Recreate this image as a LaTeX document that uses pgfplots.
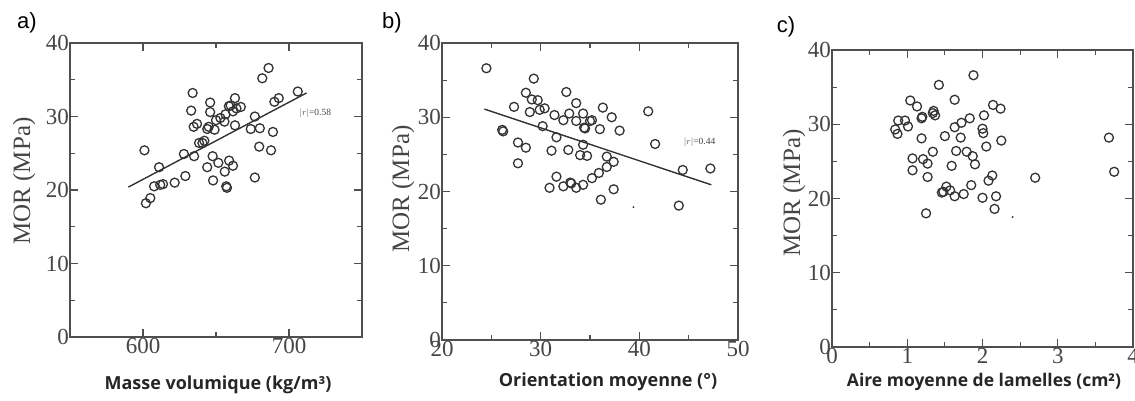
\documentclass[border=0pt]{standalone}
\usepackage{pgfplots}
\pgfplotsset{compat=1.18}
\usepackage{fontspec}
\setmainfont{Liberation Serif}
\newfontfamily\labfont{Open Sans}
\newfontfamily\panfont{Liberation Sans}
\definecolor{ink}{HTML}{333333}
\definecolor{axc}{HTML}{4F4F4F}
\definecolor{txt}{HTML}{454545}

\pgfplotsset{
  mor/.style={
    scale only axis,
    anchor=north west,
    ymin=0, ymax=40,
    ytick={0,10,20,30,40},
    minor y tick num=1,
    minor x tick num=1,
    tick align=inside,
    major tick length=8pt,
    minor tick length=5pt,
    axis line style={axc, line width=1.5pt},
    every tick/.style={axc, line width=1.2pt},
    every minor tick/.style={axc, line width=1.1pt},
    /pgf/number format/assume math mode=true,
    /pgf/number format/1000 sep={},
    tick label style={font=\fontsize{23}{25}\selectfont, text=txt},
    yticklabel style={inner sep=1pt},
    xticklabel style={inner sep=1pt},
    clip=false,
  },
  pts/.style={only marks, mark=o, mark size=4.5pt, ink, mark options={line width=1.3pt}},
  reg/.style={no marks, ink, line width=1.4pt},
}

\begin{document}
\begin{tikzpicture}
\useasboundingbox (0pt,0pt) rectangle (1135pt,-400pt);

% ---------- a ----------
\begin{axis}[mor, at={(70pt,-43pt)}, width=292pt, height=294pt,
  xmin=550, xmax=750, xtick={600,700}]
\addplot[pts] coordinates {
(601,25.4) (611,23.1) (602,18.2) (605,18.9) (607.6,20.5) (611.8,20.7)
(613.7,20.8) (621.7,21.0) (629,21.9) (628,24.9) (635,24.6) (634,33.2)
(633,30.8) (637,29.0) (638.4,26.4) (640.7,26.4) (642,26.7) (644,28.3)
(646,31.9) (646,30.6) (649,28.2) (650,29.5) (647.7,24.6) (644,23.1)
(648,21.3) (651.6,23.7) (656,22.5) (659,24.0) (661.6,23.3) (657,20.5)
(657.5,20.3) (656.5,30.3) (658.8,31.4) (663,32.5) (664,31.1) (667,31.3)
(661.6,30.7) (663,28.8) (676.6,30.0) (673.8,28.3) (680,28.4) (686,36.6)
(681.7,35.2) (689,27.9) (679.6,25.9) (687.7,25.4) (676.6,21.7) (690,32.0)
(693,32.5) (706,33.4) (655.8,29.3) (634.7,28.6) (645,28.6) (660,31.5)
(653,29.8)
};
\addplot[reg] coordinates {(590,20.4) (712,33.2)};
\node[font=\fontsize{9.5}{10}\selectfont, text=txt] at (axis cs:718,30.5) {$|r|$=0.58};
\end{axis}

% ---------- b ----------
\begin{axis}[mor, at={(442pt,-43pt)}, width=296pt, height=297pt,
  xmin=20, xmax=50, xtick={20,30,40,50}]
\addplot[pts] coordinates {
(24.5,36.6) (29.3,35.2) (28.5,33.3) (29.1,32.4) (29.7,32.3) (28.9,30.7)
(29.9,31.0) (30.4,31.2) (27.3,31.4) (26.1,28.3) (26.2,28.1) (27.7,26.6)
(28.5,25.9) (27.7,23.8) (30.2,28.8) (31.6,27.3) (31.4,30.3) (32.3,29.6)
(32.6,33.4) (32.9,30.5) (33.6,31.9) (33.6,29.5) (34.3,30.5) (34.4,28.6)
(35.0,29.5) (34.3,26.3) (34.0,24.9) (34.7,24.8) (32.8,25.6) (31.1,25.5)
(36.0,28.4) (36.3,31.3) (37.2,30.0) (38.0,28.2) (36.7,24.7) (37.4,24.0)
(36.7,23.3) (35.9,22.5) (35.2,21.8) (34.3,20.9) (33.6,20.5) (33.0,21.2)
(32.3,20.7) (31.6,22.0) (30.9,20.5) (36.1,18.9) (37.4,20.3) (40.9,30.8)
(41.6,26.4) (44.4,22.9) (47.2,23.1) (44.0,18.1) (33.1,21.1) (35.2,29.6)
(34.5,28.5)
};
\addplot[reg] coordinates {(24.3,31.1) (47.3,20.9)};
\addplot[only marks, mark=*, mark size=0.7pt, ink] coordinates {(39.4,17.9)};
\node[font=\fontsize{9.5}{10}\selectfont, text=txt] at (axis cs:46.1,26.7) {$|r|$=0.44};
\end{axis}

% ---------- c ----------
\begin{axis}[mor, at={(832pt,-50pt)}, width=301pt, height=297pt,
  xmin=0, xmax=4, xtick={0,1,2,3,4}]
\addplot[pts] coordinates {
(1.88,36.6) (1.42,35.3) (1.04,33.2) (1.13,32.4) (1.63,33.3) (1.35,31.8)
(1.37,31.2) (1.19,30.8) (1.20,31.0) (0.88,30.5) (0.97,30.5) (0.84,29.3)
(0.87,28.7) (1.01,29.7) (1.19,28.1) (1.50,28.4) (1.63,29.6) (1.72,30.2)
(1.83,30.8) (1.71,28.2) (2.02,31.2) (2.00,29.4) (2.01,28.8) (2.14,32.6)
(2.24,32.1) (2.25,27.8) (2.05,27.0) (1.07,25.4) (1.07,23.8) (1.27,24.7)
(1.34,26.3) (1.21,25.3) (1.27,22.9) (1.59,24.4) (1.65,26.4) (1.79,26.3)
(1.87,25.7) (1.90,24.6) (1.25,18.0) (1.48,20.9) (1.52,21.6) (1.57,21.1)
(1.63,20.3) (1.75,20.6) (1.85,21.8) (1.46,20.8) (2.00,20.1) (2.08,22.4)
(2.13,23.1) (2.18,20.3) (2.16,18.6) (2.70,22.8) (3.68,28.2) (3.75,23.6)
(1.34,31.5)
};
\addplot[only marks, mark=*, mark size=0.7pt, ink] coordinates {(2.4,17.5)};
\end{axis}

% ---------- labels ----------
\node[font=\panfont\fontsize{22}{24}\selectfont] at (27pt,-23pt) {a)};
\node[font=\panfont\fontsize{22}{24}\selectfont] at (392pt,-23pt) {b)};
\node[font=\panfont\fontsize{22}{24}\selectfont] at (786pt,-27pt) {c)};

\node[rotate=90, font=\fontsize{25}{27}\selectfont, text=txt] at (24pt,-181pt) {MOR (MPa)};
\node[rotate=90, font=\fontsize{25}{27}\selectfont, text=txt] at (403pt,-189pt) {MOR (MPa)};
\node[rotate=90, font=\fontsize{25}{27}\selectfont, text=txt] at (794pt,-193pt) {MOR (MPa)};

\node[font=\labfont\bfseries\fontsize{18}{20}\selectfont, text=black!85] at (218pt,-385pt) {Masse volumique (kg/m³)};
\node[font=\labfont\bfseries\fontsize{18}{20}\selectfont, text=black!85] at (608pt,-382pt) {Orientation moyenne (°)};
\node[font=\labfont\bfseries\fontsize{17.5}{20}\selectfont, text=black!85] at (984pt,-382pt) {Aire moyenne de lamelles (cm²)};
\end{tikzpicture}
\end{document}
